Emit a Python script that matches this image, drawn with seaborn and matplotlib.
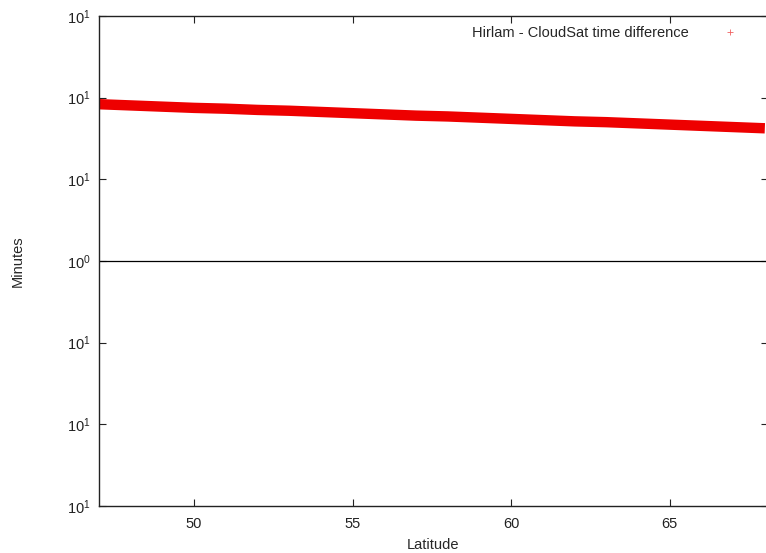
import pandas as pd
import seaborn as sns
import matplotlib.pyplot as plt
from matplotlib.lines import Line2D

# values (band centre, minutes)
latitude = [47, 48, 49, 50, 51, 52, 53, 54, 55, 56, 57, 58, 59, 60,
            61, 62, 63, 64, 65, 66, 67, 68]
time_diff = [19.2, 19.05, 18.9, 18.75, 18.65, 18.5, 18.4, 18.25, 18.1, 17.95, 17.8,
             17.7, 17.55, 17.4, 17.25, 17.1, 17.0, 16.85, 16.7, 16.55, 16.4, 16.25]
y_ticks = [-30, -20, -10, 0, 10, 20, 30]
y_labels = ["$10^{1}$", "$10^{1}$", "$10^{1}$", "$10^{0}$", "$10^{1}$", "$10^{1}$", "$10^{1}$"]
x_ticks = [50, 55, 60, 65]

df = pd.DataFrame({"lat": latitude, "diff": time_diff})

sns.set_style("ticks")
plt.rcParams["font.family"] = ["Liberation Sans", "DejaVu Sans"]
plt.rcParams["mathtext.default"] = "regular"
plt.rcParams["mathtext.fontset"] = "custom"
plt.rcParams["mathtext.rm"] = "Liberation Sans"

fig = plt.figure(figsize=(7.66, 5.53), dpi=100)
# right border sits just past the image edge, as in the reference
ax = fig.add_axes([99 / 766, 47 / 553, 669 / 766, 490 / 553])

sns.lineplot(data=df, x="lat", y="diff", color="#ee0000", linewidth=7.5,
             solid_capstyle="butt", ax=ax, legend=False)
ax.axhline(0, color="black", linewidth=0.9)

ax.set_xlim(47, 68.1)
ax.set_ylim(-30, 30)
ax.set_xticks(x_ticks)
ax.set_yticks(y_ticks)
ax.set_yticklabels(y_labels)
ax.tick_params(direction="in", top=True, right=True, length=5, width=0.8,
               labelsize=10.5, colors="#222222", pad=6)
ax.tick_params(axis="x", pad=8)
for s in ax.spines.values():
    s.set_linewidth(1.0)
    s.set_color("#222222")

ax.set_xlabel("Latitude", fontsize=10.5)
ax.xaxis.set_label_coords((433 - 99) / 669, -32 / 490)
ax.set_ylabel("Minutes", fontsize=10.5)
ax.yaxis.set_label_coords((25 - 99) / 669, 0.5)

handle = Line2D([], [], color="#f06060", marker="+", linestyle="none",
                markersize=5, markeredgewidth=0.6)
ax.legend([handle], ["Hirlam - CloudSat time difference"], loc="upper right",
          frameon=False, fontsize=10.5, markerfirst=False, handletextpad=1.8,
          borderaxespad=0.3, bbox_to_anchor=(0.98, 1.0))

fig.savefig("out.png", dpi=100)
